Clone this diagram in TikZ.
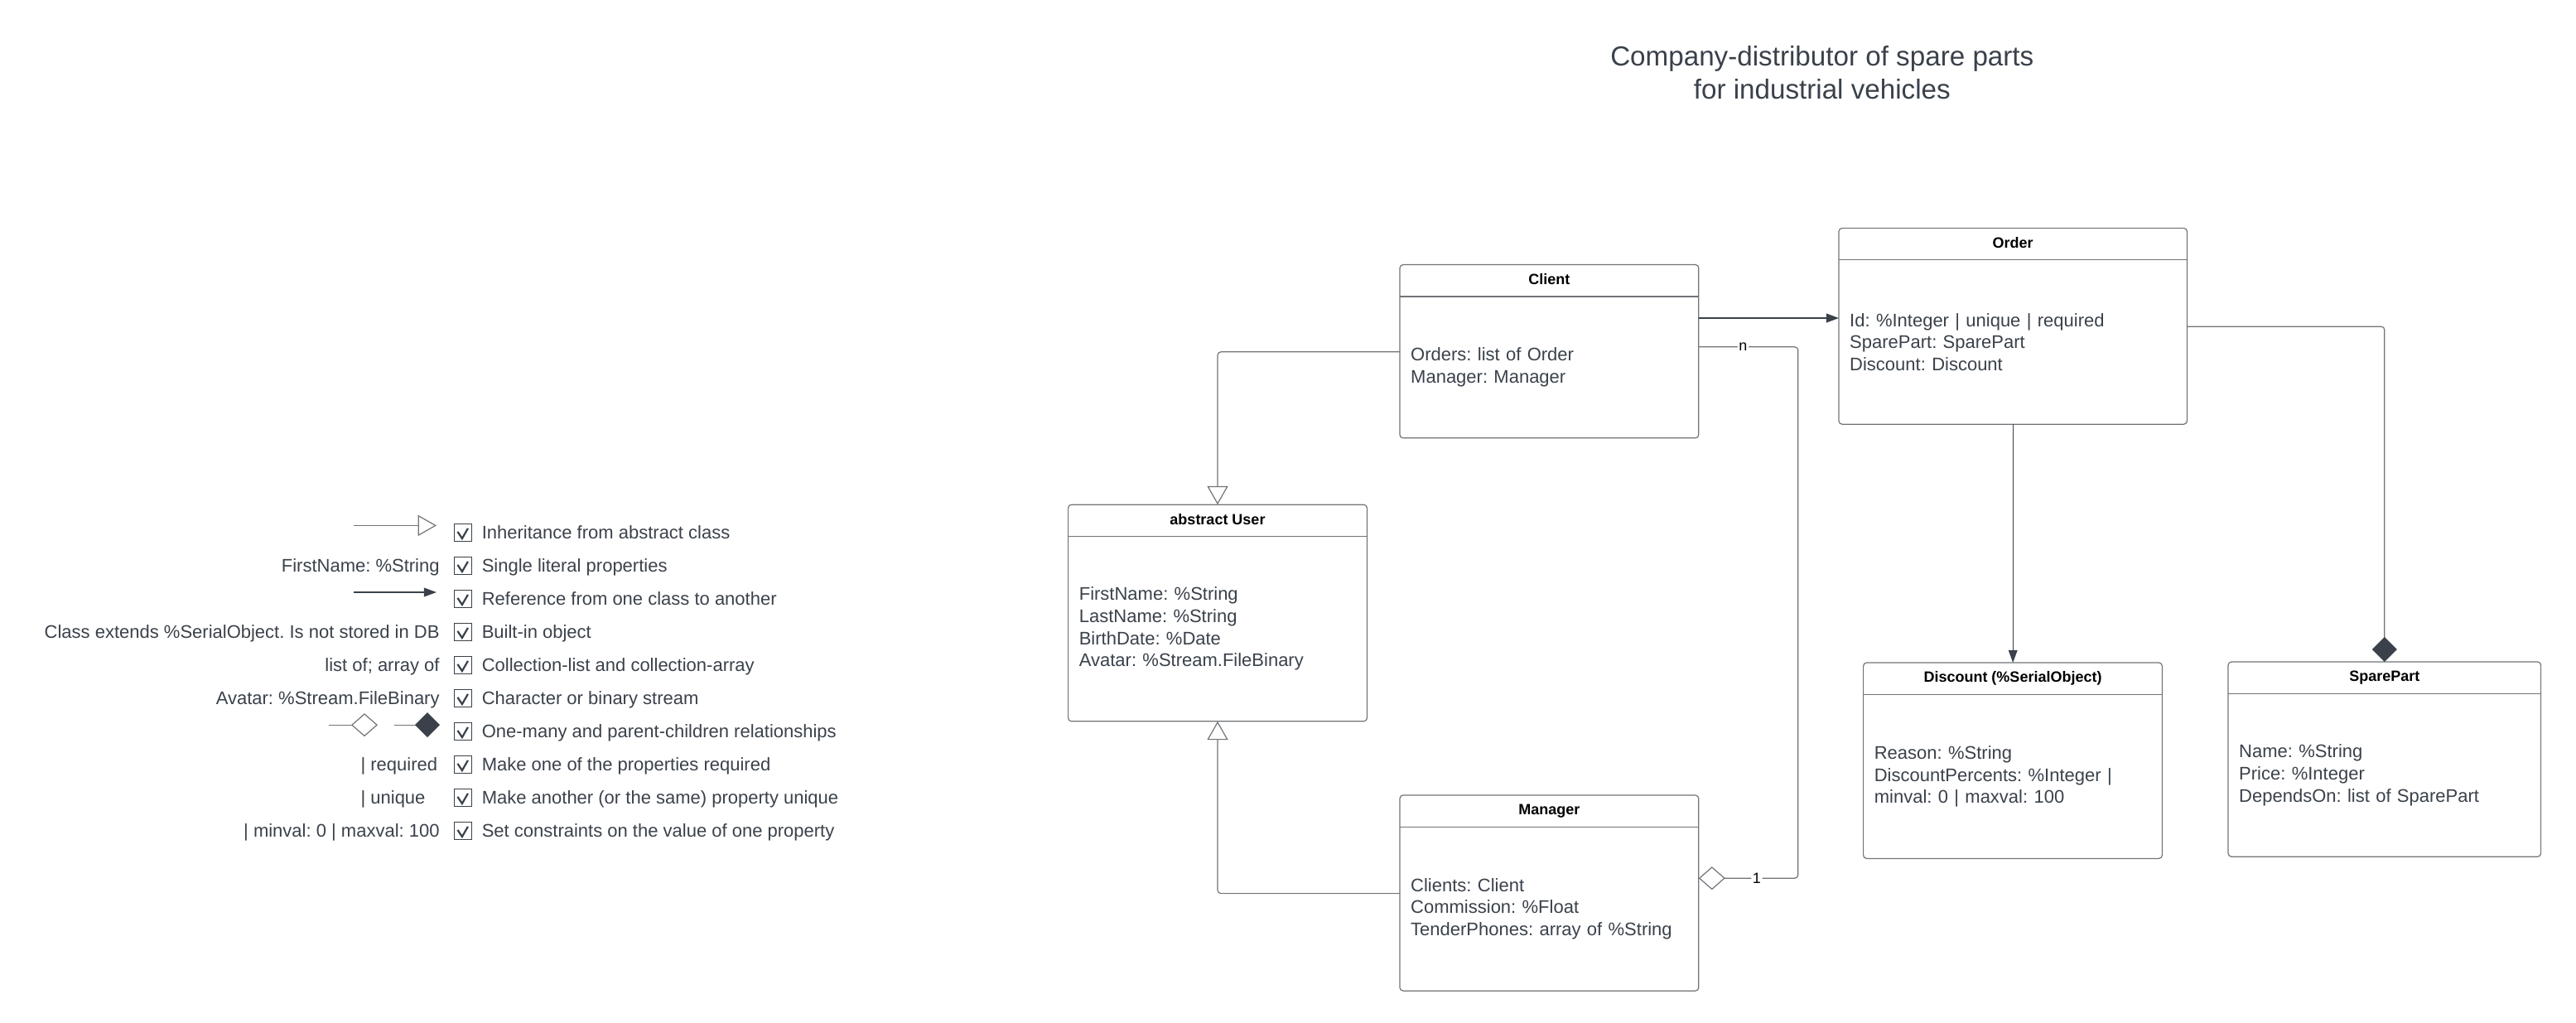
\documentclass[tikz,border=0pt]{standalone}
\usepackage{fontspec}
\setmainfont{Liberation Sans}
\usetikzlibrary{positioning,arrows.meta}
\definecolor{textgray}{HTML}{3A414A}
\definecolor{linegray}{HTML}{707478}
\newcommand{\attrfont}{\fontsize{11}{13.3}\selectfont\frenchspacing}
\newcommand{\headfont}{\fontsize{9}{11}\selectfont\bfseries}
\newcommand{\titlefont}{\fontsize{16.6}{19.8}\selectfont}
\newcommand{\multfont}{\fontsize{9}{11}\selectfont}

\begin{document}
\begin{tikzpicture}
    [
    x=1pt, y=1pt,
    head/.style={anchor=north west,minimum height=18.8pt,inner sep=0pt,text height=6.6pt,text depth=2pt,font=\headfont,text=black},
    body/.style={below=0pt of #1,align=left,inner xsep=6.4pt,inner ysep=0pt,font=\attrfont,text=textgray},
    outline/.style={draw=linegray,line width=0.6pt,rounded corners=2pt},
    inherit/.style={draw=linegray,line width=0.6pt,rounded corners=2pt,-{Triangle[open,length=11.2pt,width=12.6pt]}},
    ref/.style={draw=textgray,line width=0.6pt,-{Triangle[length=7.6pt,width=5.4pt]}},
    aggr/.style={draw=linegray,line width=0.6pt,rounded corners=2pt,-{Diamond[open,length=16pt,width=14pt]}},
    comp/.style={draw=linegray,line width=0.6pt,rounded corners=2pt,-{Diamond[length=15pt,width=15pt,color=textgray]}},
    mult/.style={fill=white,inner sep=0.8pt,font=\multfont,text=black},
    chk/.style={draw=textgray,line width=0.5pt,minimum size=10.5pt,inner sep=0pt,
      path picture={\draw[textgray,line width=1.1pt]
        ([shift={(2.2pt,6pt)}]path picture bounding box.south west) --
        ([shift={(4.9pt,1.9pt)}]path picture bounding box.south west) --
        ([shift={(8.4pt,8pt)}]path picture bounding box.south west);}},
    legtext/.style={anchor=base west,inner sep=0pt,font=\attrfont,text=textgray},
    keytext/.style={anchor=base east,inner sep=0pt,font=\attrfont,text=textgray},
    ]
    \useasboundingbox (0,0) rectangle (1555,-617.5);

    % title
    \node (title) at (1099.9,-27.5) [anchor=north,align=center,inner sep=0pt,font=\titlefont,text=textgray]
      {Company-distributor of spare parts\\for industrial vehicles};

    % classes
    \node (user) at (644.8,-304.6) [head,minimum width=180pt] {abstract User};
    \node (user body) [body=user,text width=167.2pt,minimum height=111.2pt]
      {FirstName: \%String\\LastName: \%String\\BirthDate: \%Date\\Avatar: \%Stream.FileBinary};
    \node (client) at (845,-159.8) [head,minimum width=180pt] {Client};
    \node (client body) [body=client,text width=167.2pt,minimum height=85pt]
      {Orders: list of Order\\Manager: Manager};
    \node (manager) at (845,-480) [head,minimum width=180pt] {Manager};
    \node (manager body) [body=manager,text width=167.2pt,minimum height=98.5pt]
      {Clients: Client\\Commission: \%Float\\TenderPhones: array of \%String};
    \node (order) at (1110,-137.7) [head,minimum width=209.8pt] {Order};
    \node (order body) [body=order,text width=197pt,minimum height=98.8pt]
      {Id: \%Integer | unique | required\\SparePart: SparePart\\Discount: Discount};
    \node (discount) at (1124.8,-400) [head,minimum width=180pt] {Discount (\%SerialObject)};
    \node (discount body) [body=discount,text width=167.2pt,minimum height=98.6pt]
      {Reason: \%String\\DiscountPercents: \%Integer |\\minval: 0 | maxval: 100};
    \node (spare) at (1345,-399.5) [head,minimum width=188.4pt] {SparePart};
    \node (spare body) [body=spare,text width=175.6pt,minimum height=98pt]
      {Name: \%String\\Price: \%Integer\\DependsOn: list of SparePart};

    \draw [outline] (user.north west) rectangle (user body.south east);
    \draw [outline] (user.south west) -- (user.south east);
    \draw [outline] (client.north west) rectangle (client body.south east);
    \draw [outline] (client.south west) -- (client.south east);
    \draw [outline] (manager.north west) rectangle (manager body.south east);
    \draw [outline] (manager.south west) -- (manager.south east);
    \draw [outline] (order.north west) rectangle (order body.south east);
    \draw [outline] (order.south west) -- (order.south east);
    \draw [outline] (discount.north west) rectangle (discount body.south east);
    \draw [outline] (discount.south west) -- (discount.south east);
    \draw [outline] (spare.north west) rectangle (spare body.south east);
    \draw [outline] (spare.south west) -- (spare.south east);

    % connectors
    \coordinate (c2u) at ([yshift=-33.4pt]client body.north west);
    \coordinate (m2u) at ([yshift=-40.1pt]manager body.north west);
    \coordinate (c2o) at ([yshift=-13pt]client body.north east);
    \coordinate (c2m) at ([yshift=-30.4pt]client body.north east);
    \coordinate (m2c) at ([yshift=-30.9pt]manager body.north east);
    \coordinate (o2s) at ([yshift=-40.2pt]order body.north east);
    \draw [inherit] (c2u) -| (user.north);
    \draw [inherit] (m2u) -| (user body.south);
    \draw [ref,line width=1pt] (c2o) -- (c2o -| order body.west);
    \draw [ref] (order body.south) -- (order body.south |- discount.north);
    \draw [comp] (o2s) -| (spare.north);
    \draw [aggr] (c2m) -- node[mult,pos=0.447] {n} ++(60,0) |- node[mult,pos=0.708] {1} (m2c);

    % legend
    \coordinate (inh a) at (213.6,-317.2);
    \coordinate (inh b) at (263.5,-317.2);
    \coordinate (ref a) at (213.6,-357.5);
    \coordinate (ref b) at (263.5,-357.5);
    \coordinate (agg a) at (198.5,-437.6);
    \coordinate (agg b) at (228,-437.6);
    \coordinate (comp a) at (238,-437.6);
    \coordinate (comp b) at (265.5,-437.6);
    \draw [inherit] (inh a) -- (inh b);
    \draw [ref] (ref a) -- (ref b);
    \draw [aggr] (agg a) -- (agg b);
    \draw [comp] (comp a) -- (comp b);

    \node (key2) at (265.5,-345) [keytext] {FirstName: \%String};
    \node (key4) at (265.5,-385) [keytext] {Class extends \%SerialObject. Is not stored in DB};
    \node (key5) at (265.5,-405) [keytext] {list of; array of};
    \node (key6) at (265.5,-425) [keytext] {Avatar: \%Stream.FileBinary};
    \node (key8) at (217.6,-465) [legtext] {| required};
    \node (key9) at (217.6,-485) [legtext] {| unique};
    \node (key10) at (265.5,-505) [keytext] {| minval: 0 | maxval: 100};

    \node (chk1) at (279.3,-321.7) [chk] {};
    \node (chk2) at (279.3,-341.7) [chk] {};
    \node (chk3) at (279.3,-361.7) [chk] {};
    \node (chk4) at (279.3,-381.7) [chk] {};
    \node (chk5) at (279.3,-401.7) [chk] {};
    \node (chk6) at (279.3,-421.7) [chk] {};
    \node (chk7) at (279.3,-441.7) [chk] {};
    \node (chk8) at (279.3,-461.7) [chk] {};
    \node (chk9) at (279.3,-481.7) [chk] {};
    \node (chk10) at (279.3,-501.7) [chk] {};

    \node (leg1) at (290.7,-325) [legtext] {Inheritance from abstract class};
    \node (leg2) at (290.7,-345) [legtext] {Single literal properties};
    \node (leg3) at (290.7,-365) [legtext] {Reference from one class to another};
    \node (leg4) at (290.7,-385) [legtext] {Built-in object};
    \node (leg5) at (290.7,-405) [legtext] {Collection-list and collection-array};
    \node (leg6) at (290.7,-425) [legtext] {Character or binary stream};
    \node (leg7) at (290.7,-445) [legtext] {One-many and parent-children relationships};
    \node (leg8) at (290.7,-465) [legtext] {Make one of the properties required};
    \node (leg9) at (290.7,-485) [legtext] {Make another (or the same) property unique};
    \node (leg10) at (290.7,-505) [legtext] {Set constraints on the value of one property};
  \end{tikzpicture}
\end{document}
